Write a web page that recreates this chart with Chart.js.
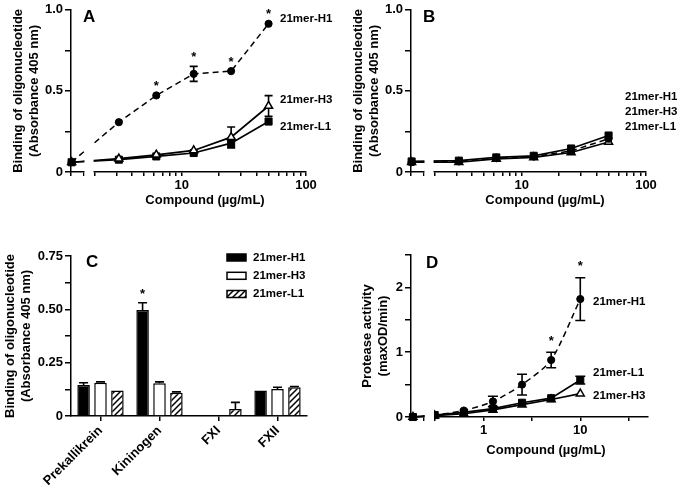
<!DOCTYPE html>
<html>
<head>
<meta charset="utf-8">
<script src="https://cdn.jsdelivr.net/npm/chart.js@4.4.1/dist/chart.umd.min.js"></script>
<style>
  html, body { margin: 0; padding: 0; background: #fff; }
  #fig { position: relative; width: 680px; height: 493px; overflow: hidden; background: #fff; }
  canvas { position: absolute; }
</style>
</head>
<body>
<div id="fig">
  <canvas id="pA" width="340" height="230" style="left:0;top:0"></canvas>
  <canvas id="pB" width="340" height="230" style="left:340px;top:0"></canvas>
  <canvas id="pC" width="340" height="263" style="left:0;top:230px"></canvas>
  <canvas id="pD" width="340" height="263" style="left:340px;top:230px"></canvas>
</div>
<script>
// series names
const series = ['21mer-H1', '21mer-H3', '21mer-L1'];

// panels A and B: concentration (µg/mL), 0 = untreated
const concAB = [0, 3.125, 6.25, 12.5, 25, 50];
const aH1 = [0.061, 0.307, 0.472, 0.605, 0.622, 0.914];
const aH1Err = [0, 0, 0, 0.046, 0, 0];
const aH1Stars = [false, false, true, true, true, true];
const aH3 = [0.06, 0.082, 0.106, 0.133, 0.215, 0.407];
const aH3Err = [0, 0, 0, 0, 0.062, 0.064];
const aL1 = [0.06, 0.076, 0.096, 0.117, 0.178, 0.311];
const aL1Err = [0, 0, 0, 0, 0.03, 0];

const bH1 = [0.06, 0.065, 0.085, 0.095, 0.13, 0.205];
const bH3 = [0.06, 0.06, 0.08, 0.09, 0.12, 0.185];
const bL1 = [0.065, 0.07, 0.09, 0.10, 0.145, 0.225];

// panel C: bars
const cCategories = ['Prekallikrein', 'Kininogen', 'FXI', 'FXII'];
const cH1 = [0.145, 0.497, 0, 0.119];
const cH1Err = [0.011, 0.034, 0, 0];
const cH1Stars = [false, true, false, false];
const cH3 = [0.156, 0.153, 0, 0.127];
const cH3Err = [0.004, 0.007, 0, 0.008];
const cL1 = [0.119, 0.109, 0.033, 0.135];
const cL1Err = [0, 0.004, 0.031, 0.003];

// panel D: protease activity
const concD = [0, 0.3125, 0.625, 1.25, 2.5, 5, 10];
const dH1 = [0, 0.03, 0.10, 0.24, 0.50, 0.88, 1.82];
const dH1Err = [0, 0, 0, 0.08, 0.16, 0.12, 0.33];
const dH1Stars = [false, false, false, false, false, true, true];
const dL1 = [0, 0.03, 0.07, 0.13, 0.22, 0.29, 0.57];
const dL1Err = [0, 0, 0, 0, 0, 0, 0.06];
const dH3 = [0, 0.02, 0.05, 0.11, 0.19, 0.27, 0.36];

const FONT = "'Liberation Sans', Arial, Helvetica, sans-serif";
Chart.defaults.font.family = FONT;
Chart.defaults.font.weight = 'bold';
Chart.defaults.color = '#000';

const near = (a, b) => Math.abs(a - b) < 1e-6;

// log axis with a break; zero is drawn on the short left segment
const axAB = {
  min: 0.11, max: 2.0, zero: 0.115, brk: [0.209, Math.log10(2)],
  ticks: [0.11, 0.209].concat([2, 3, 4, 5, 6, 7, 8, 9, 10, 20, 30, 40, 50, 60, 70, 80, 90, 100].map(Math.log10)),
  label: v => near(v, 1) ? '10' : near(v, 2) ? '100' : ''
};
const axD = {
  min: -0.75, max: 1.70, zero: -0.73, brk: [-0.62, -0.5],
  ticks: [-0.75, -0.62, -0.5, 0, 0.5, 1, 1.5],
  label: v => near(v, 0) ? '1' : near(v, 1) ? '10' : ''
};

const pts = (conc, vals, ax) => conc.map((c, i) => ({ x: c > 0 ? Math.log10(c) : ax.zero, y: vals[i] }));

const styleH1 = { borderColor: '#000', borderWidth: 1.5, borderDash: [6, 4], pointStyle: 'circle', pointRadius: 3.6,
  pointBackgroundColor: '#000', pointBorderColor: '#000', pointBorderWidth: 1, clip: false };
const styleH3 = { borderColor: '#000', borderWidth: 1.7, pointStyle: 'triangle', pointRadius: 4.6,
  pointBackgroundColor: '#fff', pointBorderColor: '#000', pointBorderWidth: 1.5, clip: false };
const styleL1 = { borderColor: '#000', borderWidth: 1.7, pointStyle: 'rect', pointRadius: 5,
  pointBackgroundColor: '#000', pointBorderColor: '#000', pointBorderWidth: 1, clip: false };

function hatch() {
  const c = document.createElement('canvas');
  c.width = 6; c.height = 6;
  const g = c.getContext('2d');
  g.fillStyle = '#fff';
  g.fillRect(0, 0, 6, 6);
  g.strokeStyle = '#000';
  g.lineWidth = 1.5;
  g.beginPath();
  g.moveTo(-1, 7); g.lineTo(7, -1);
  g.moveTo(-1, 1); g.lineTo(1, -1);
  g.moveTo(5, 7); g.lineTo(7, 5);
  g.stroke();
  return g.createPattern(c, 'repeat');
}
const hatchFill = hatch();

// error bars, axis break, asterisks, labels, letters
const decor = {
  id: 'decor',
  beforeDatasetsDraw(chart, args, o) {
    const ctx = chart.ctx, ys = chart.scales.y;
    chart.data.datasets.forEach((ds, di) => {
      if (!ds.errors) return;
      const meta = chart.getDatasetMeta(di);
      ds.errors.forEach((e, i) => {
        if (!e) return;
        const v = typeof ds.data[i] === 'object' ? ds.data[i].y : ds.data[i];
        const x = meta.data[i].x;
        const top = ys.getPixelForValue(v + e);
        const bot = ys.getPixelForValue(o.upOnly ? v : v - e);
        ctx.save();
        ctx.strokeStyle = '#000';
        ctx.lineWidth = 1.6;
        ctx.beginPath();
        ctx.moveTo(x, top); ctx.lineTo(x, bot);
        ctx.moveTo(x - o.cap, top); ctx.lineTo(x + o.cap, top);
        if (!o.upOnly) { ctx.moveTo(x - o.cap, bot); ctx.lineTo(x + o.cap, bot); }
        ctx.stroke();
        ctx.restore();
      });
    });
  },
  afterDatasetsDraw(chart, args, o) {
    if (!o.brk) return;
    const ctx = chart.ctx, xs = chart.scales.x, a = chart.chartArea;
    const l = xs.getPixelForValue(o.brk[0]) + 1.2;
    const r = xs.getPixelForValue(o.brk[1]) - 1.2;
    ctx.save();
    ctx.fillStyle = '#fff';
    ctx.fillRect(l, a.top, r - l, a.bottom - a.top + 8);
    ctx.restore();
  },
  afterDraw(chart, args, o) {
    const ctx = chart.ctx, ys = chart.scales.y;
    ctx.save();
    ctx.fillStyle = '#000';
    // asterisks
    ctx.font = 'bold 13px ' + FONT;
    ctx.textAlign = 'center';
    ctx.textBaseline = 'middle';
    chart.data.datasets.forEach((ds, di) => {
      if (!ds.stars) return;
      const meta = chart.getDatasetMeta(di);
      ds.stars.forEach((s, i) => {
        if (!s) return;
        const v = typeof ds.data[i] === 'object' ? ds.data[i].y : ds.data[i];
        const e = ds.errors ? ds.errors[i] : 0;
        ctx.fillText('*', meta.data[i].x, ys.getPixelForValue(v + e) - o.starGap);
      });
    });
    // panel letter
    ctx.font = 'bold 17px ' + FONT;
    ctx.textAlign = 'left';
    ctx.textBaseline = 'alphabetic';
    ctx.fillText(o.letter[0], o.letter[1], o.letter[2]);
    // series labels
    ctx.font = 'bold 11.5px ' + FONT;
    ctx.textBaseline = 'middle';
    (o.labels || []).forEach(t => ctx.fillText(t[0], t[1], t[2]));
    // x title
    if (o.xTitle) {
      ctx.font = 'bold 13px ' + FONT;
      ctx.textAlign = 'center';
      ctx.fillText(o.xTitle[0], o.xTitle[1], o.xTitle[2]);
    }
    // legend
    if (o.legend) {
      const L = o.legend;
      chart.data.datasets.forEach((ds, i) => {
        const y = L.ys[i];
        ctx.fillStyle = ds.backgroundColor;
        ctx.fillRect(L.x, y - L.h / 2, L.w, L.h);
        ctx.strokeStyle = '#000';
        ctx.lineWidth = 1.5;
        ctx.strokeRect(L.x, y - L.h / 2, L.w, L.h);
        ctx.fillStyle = '#000';
        ctx.font = 'bold 11.5px ' + FONT;
        ctx.textAlign = 'left';
        ctx.fillText(ds.label, L.textX, y);
      });
    }
    ctx.restore();
  }
};

function yAxis(max, step, labelFn, title, titlePad) {
  return {
    min: 0, max: max,
    afterFit: s => { s.width = 71; },
    ticks: { stepSize: step, autoSkip: false, padding: 2, callback: labelFn, font: { size: 13, weight: 'bold' }, color: '#000' },
    grid: { drawOnChartArea: false, drawTicks: true, tickLength: 6, color: '#000', lineWidth: 1.5 },
    border: { display: true, color: '#000', width: 1.5 },
    title: { display: true, text: title, color: '#000', font: { size: 13, weight: 'bold', lineHeight: 1.3 }, padding: { top: titlePad, bottom: 0 } }
  };
}

function xLogAxis(ax, h) {
  return {
    type: 'linear', min: ax.min, max: ax.max,
    afterBuildTicks: s => { s.ticks = ax.ticks.map(v => ({ value: v })); },
    afterFit: s => { s.height = h; },
    ticks: { autoSkip: false, maxRotation: 0, padding: 2, callback: v => ax.label(v), font: { size: 13, weight: 'bold' }, color: '#000' },
    grid: { drawOnChartArea: false, drawTicks: true, tickLength: 4, color: '#000', lineWidth: 1.5 },
    border: { display: true, color: '#000', width: 1.5 }
  };
}

const bindingTitle = ['Binding of oligonucleotide', '(Absorbance 405 nm)'];
const yLabAB = v => near(v, 0) ? '0' : near(v, 0.5) ? '0.5' : near(v, 1) ? '1.0' : '';

function lineChart(id, ax, datasets, yOpts, pad, xh, decorOpts) {
  return new Chart(document.getElementById(id), {
    type: 'line',
    data: { datasets: datasets },
    options: {
      responsive: false,
      animation: false,
      layout: { padding: pad },
      plugins: { legend: { display: false }, tooltip: { enabled: false }, decor: decorOpts },
      scales: { x: xLogAxis(ax, xh), y: yOpts }
    },
    plugins: [decor]
  });
}

// A
lineChart('pA', axAB, [
  Object.assign({ label: series[0], data: pts(concAB, aH1, axAB), errors: aH1Err, stars: aH1Stars }, styleH1),
  Object.assign({ label: series[1], data: pts(concAB, aH3, axAB), errors: aH3Err }, styleH3),
  Object.assign({ label: series[2], data: pts(concAB, aL1, axAB), errors: aL1Err }, styleL1)
], yAxis(1.0, 0.25, yLabAB, bindingTitle, 9.5), { top: 9, right: 34, bottom: 0, left: 0 }, 58, {
  brk: axAB.brk, cap: 4, starGap: 9, letter: ['A', 83, 22],
  labels: [[series[0], 280, 19], [series[1], 280, 100], [series[2], 280, 127]],
  xTitle: ['Compound (µg/mL)', 205, 200]
});

// B
lineChart('pB', axAB, [
  Object.assign({ label: series[0], data: pts(concAB, bH1, axAB) }, styleH1),
  Object.assign({ label: series[1], data: pts(concAB, bH3, axAB) }, styleH3),
  Object.assign({ label: series[2], data: pts(concAB, bL1, axAB) }, styleL1)
], yAxis(1.0, 0.25, yLabAB, bindingTitle, 9.5), { top: 9, right: 34, bottom: 0, left: 0 }, 58, {
  brk: axAB.brk, cap: 4, starGap: 9, letter: ['B', 83, 22],
  labels: [[series[0], 285, 97], [series[1], 285, 112], [series[2], 285, 127]],
  xTitle: ['Compound (µg/mL)', 205, 200]
});

// C
const barStyle = { borderColor: '#000', borderWidth: 1.5, categoryPercentage: 0.86, barPercentage: 0.74 };
new Chart(document.getElementById('pC'), {
  type: 'bar',
  data: {
    labels: cCategories,
    datasets: [
      Object.assign({ label: series[0], data: cH1, errors: cH1Err, stars: cH1Stars, backgroundColor: '#000' }, barStyle),
      Object.assign({ label: series[1], data: cH3, errors: cH3Err, backgroundColor: '#fff' }, barStyle),
      Object.assign({ label: series[2], data: cL1, errors: cL1Err, backgroundColor: hatchFill }, barStyle)
    ]
  },
  options: {
    responsive: false,
    animation: false,
    layout: { padding: { top: 26, right: 33, bottom: 0, left: 0 } },
    plugins: {
      legend: { display: false }, tooltip: { enabled: false },
      decor: {
        upOnly: true, cap: 4.5, starGap: 8, letter: ['C', 86, 37],
        legend: { x: 227, ys: [27.5, 45.8, 64], w: 19, h: 7, textX: 253 }
      }
    },
    scales: {
      x: {
        afterFit: s => { s.height = 77; },
        ticks: { autoSkip: false, minRotation: 45, maxRotation: 45, padding: 2, font: { size: 13, weight: 'bold' }, color: '#000' },
        grid: { offset: false, drawOnChartArea: false, drawTicks: true, tickLength: 5, color: '#000', lineWidth: 1.5 },
        border: { display: true, color: '#000', width: 1.5 }
      },
      y: yAxis(0.75, 0.125, v => near(v, 0) ? '0' : near(v, 0.25) ? '0.25' : near(v, 0.5) ? '0.50' : near(v, 0.75) ? '0.75' : '',
        bindingTitle, 1.5)
    }
  },
  plugins: [decor]
});

// D
lineChart('pD', axD, [
  Object.assign({ label: series[0], data: pts(concD, dH1, axD), errors: dH1Err, stars: dH1Stars }, styleH1, { tension: 0.25 }),
  Object.assign({ label: series[2], data: pts(concD, dL1, axD), errors: dL1Err }, styleL1),
  Object.assign({ label: series[1], data: pts(concD, dH3, axD) }, styleH3)
], yAxis(2.5, 0.5, v => near(v, 0) ? '0' : near(v, 1) ? '1' : near(v, 2) ? '2' : '', ['Protease activity', '(maxOD/min)'], 18.5),
  { top: 25, right: 32, bottom: 0, left: 0 }, 76, {
  brk: axD.brk, cap: 5, starGap: 11, letter: ['D', 86, 38],
  labels: [[series[0], 253, 72], [series[2], 253, 143], [series[1], 253, 166]],
  xTitle: ['Compound (µg/mL)', 206, 220]
});
</script>
</body>
</html>
